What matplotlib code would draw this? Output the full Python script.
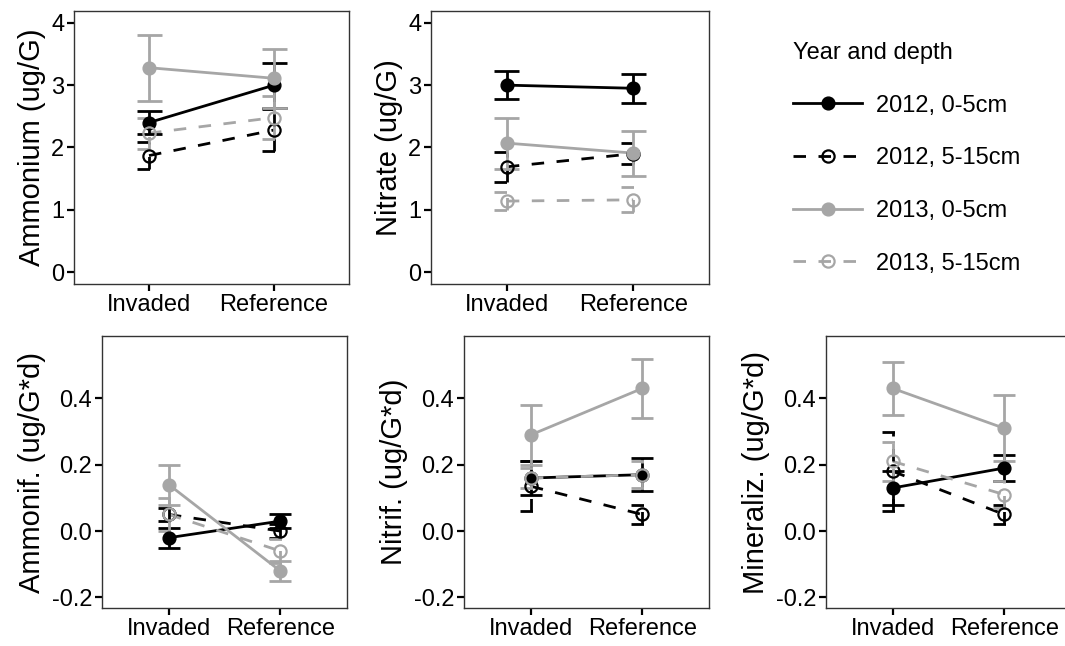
import matplotlib
matplotlib.use('Agg')
import matplotlib.pyplot as plt
from matplotlib.lines import Line2D
import numpy as np

plt.rcParams['font.family'] = ['Liberation Sans', 'DejaVu Sans']

sites = ['Invaded', 'Reference']
series = ['2012, 0-5cm', '2012, 5-15cm', '2013, 0-5cm', '2013, 5-15cm']

# means per series [Invaded, Reference] and error bar half widths
ammonium_mean = [[2.40, 3.00], [1.87, 2.28], [3.28, 3.11], [2.23, 2.48]]
ammonium_err = [[0.18, 0.36], [0.21, 0.34], [0.53, 0.47], [0.25, 0.35]]
nitrate_mean = [[3.00, 2.95], [1.69, 1.90], [2.07, 1.91], [1.14, 1.16]]
nitrate_err = [[0.22, 0.23], [0.24, 0.17], [0.41, 0.36], [0.15, 0.20]]
ammonif_mean = [[-0.02, 0.03], [0.05, 0.00], [0.14, -0.12], [0.05, -0.06]]
ammonif_err = [[0.03, 0.02], [0.02, 0.02], [0.06, 0.03], [0.05, 0.035]]
nitrif_mean = [[0.16, 0.17], [0.135, 0.05], [0.29, 0.43], [0.16, 0.17]]
nitrif_err = [[0.05, 0.05], [0.075, 0.03], [0.09, 0.09], [0.03, 0.04]]
mineraliz_mean = [[0.13, 0.19], [0.18, 0.05], [0.43, 0.31], [0.21, 0.11]]
mineraliz_err = [[0.05, 0.04], [0.12, 0.03], [0.08, 0.10], [0.06, 0.04]]

grey = '#a6a6a6'
colors = ['black', 'black', grey, grey]
filled = [True, False, True, False]
dash = (0, (4.5, 4.5))
styles = ['-', dash, '-', dash]
lw = 2.0

fig = plt.figure(figsize=(10.65, 6.46), dpi=100)


def marker_kw(i):
    if filled[i]:
        return dict(marker='o', ms=9.2, mfc=colors[i], mec=colors[i])
    return dict(marker='o', ms=8.8, mfc='none', mec=colors[i], mew=1.6)


def panel(rect, means, errs, ylabel, ylim, yticks, ticklabels):
    ax = fig.add_axes(rect)
    x = np.arange(len(sites))
    for i in range(len(series)):
        ax.plot(x, means[i], color=colors[i], linestyle=styles[i], lw=lw, zorder=2)
    for i in range(len(series)):
        m = np.array(means[i])
        e = np.array(errs[i])
        ax.vlines(x, m - e, m + e, color=colors[i], linestyle=styles[i], lw=lw, zorder=3)
        ax.hlines(m - e, x - 0.1, x + 0.1, color=colors[i], linestyle=styles[i], lw=lw, zorder=3)
        ax.hlines(m + e, x - 0.1, x + 0.1, color=colors[i], linestyle=styles[i], lw=lw, zorder=3)
    for i in range(len(series)):
        ax.plot(x, means[i], linestyle='none', zorder=4, **marker_kw(i))
    ax.set_xlim(-0.6, 1.6)
    ax.set_ylim(*ylim)
    ax.set_xticks(x)
    ax.set_xticklabels(sites)
    ax.set_yticks(yticks)
    ax.set_yticklabels(ticklabels)
    ax.set_ylabel(ylabel, fontsize=21, labelpad=4)
    ax.tick_params(labelsize=17, length=5, width=1.6, pad=2, colors='black')
    for s in ax.spines.values():
        s.set_linewidth(1.0)
        s.set_color('#333333')
    return ax


top_ticks = [0, 1, 2, 3, 4]
top_labels = ['0', '1', '2', '3', '4']
bot_ticks = [-0.2, 0.0, 0.2, 0.4]
bot_labels = ['-0.2', '0.0', '0.2', '0.4']

panel([0.0695, 0.5604, 0.2582, 0.4226], ammonium_mean, ammonium_err,
      'Ammonium (ug/G)', (-0.19, 4.19), top_ticks, top_labels)
panel([0.4047, 0.5604, 0.2610, 0.4226], nitrate_mean, nitrate_err,
      'Nitrate (ug/G)', (-0.19, 4.19), top_ticks, top_labels)
panel([0.0958, 0.0588, 0.2300, 0.4210], ammonif_mean, ammonif_err,
      'Ammonif. (ug/G*d)', (-0.232, 0.588), bot_ticks, bot_labels)
panel([0.4357, 0.0588, 0.2300, 0.4210], nitrif_mean, nitrif_err,
      'Nitrif. (ug/G*d)', (-0.232, 0.588), bot_ticks, bot_labels)
panel([0.7756, 0.0588, 0.2300, 0.4210], mineraliz_mean, mineraliz_err,
      'Mineraliz. (ug/G*d)', (-0.232, 0.588), bot_ticks, bot_labels)

handles = [Line2D([], [], color=colors[i], linestyle=styles[i], lw=lw, **marker_kw(i))
           for i in range(len(series))]

leg = fig.legend(handles, series, title='Year and depth', loc='upper left',
                 bbox_to_anchor=(0.725, 0.968), frameon=False, fontsize=17,
                 title_fontsize=17, handlelength=2.9, handletextpad=0.6,
                 labelspacing=1.3)
leg._legend_box.align = 'left'

fig.savefig('out.png', dpi=100)
